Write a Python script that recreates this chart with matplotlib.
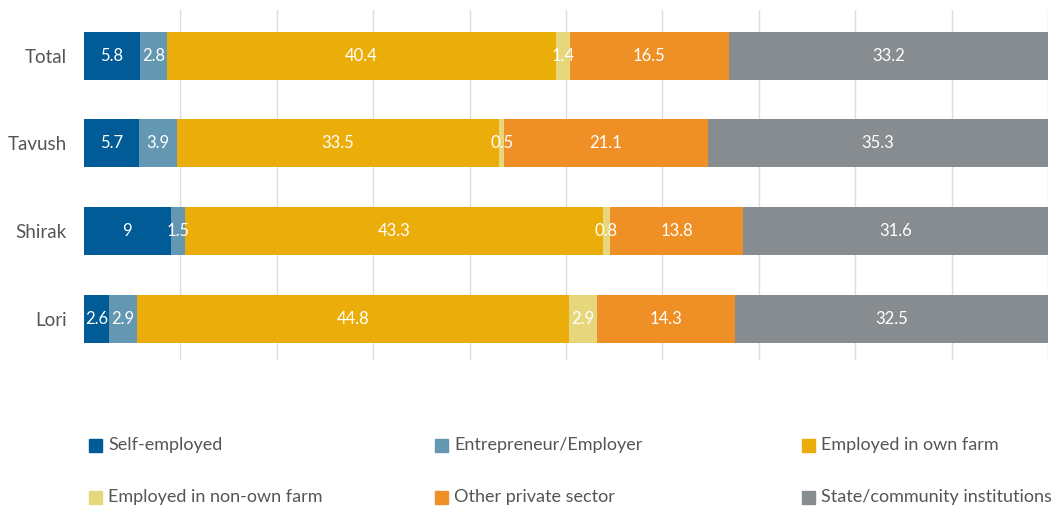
import matplotlib
matplotlib.use("Agg")
import matplotlib.pyplot as plt
from matplotlib.patches import Rectangle
import numpy as np

plt.rcParams['font.family'] = ['Lato', 'DejaVu Sans']

categories = ["Total", "Tavush", "Shirak", "Lori"]
series_names = ["Self-employed", "Entrepreneur/Employer", "Employed in own farm",
                "Employed in non-own farm", "Other private sector", "State/community institutions"]
self_employed = [5.8, 5.7, 9, 2.6]
entrepreneur = [2.8, 3.9, 1.5, 2.9]
own_farm = [40.4, 33.5, 43.3, 44.8]
non_own_farm = [1.4, 0.5, 0.8, 2.9]
other_private = [16.5, 21.1, 13.8, 14.3]
state_inst = [33.2, 35.3, 31.6, 32.5]
colors = ["#005b96", "#6497b1", "#ebad0a", "#e6d77c", "#ef9027", "#878c91"]

series = [self_employed, entrepreneur, own_farm, non_own_farm, other_private, state_inst]

fig = plt.figure(figsize=(10.51, 5.07), dpi=100)
ax = fig.add_axes([84/1051, 1-360/507, (1048-84)/1051, 350/507])

y = np.arange(len(categories))
left = np.zeros(len(categories))
for vals, col, name in zip(series, colors, series_names):
    v = np.array(vals, dtype=float)
    ax.barh(y, v, left=left, height=0.545, color=col, label=name, zorder=2)
    for yi, (l, w) in enumerate(zip(left, v)):
        ax.text(l + w/2, yi, f"{w:g}", ha='center', va='center', color='white',
                fontsize=12, zorder=3)
    left += v

ax.set_xlim(0, 100)
ax.set_ylim(3.47, -0.52)
ax.set_yticks(y)
ax.set_yticklabels(categories, fontsize=13.5, color='#555555')
ax.tick_params(axis='y', length=0, pad=12.5)
ax.set_xticks(np.arange(10, 101, 10))
ax.tick_params(axis='x', length=0, labelbottom=False)
ax.grid(axis='x', color='#dddddd', linewidth=1, zorder=0)
for s in ax.spines.values():
    s.set_visible(False)

# legend
leg_x = [89, 435, 802]
leg_y = [445, 497]
for i, (name, col) in enumerate(zip(series_names, colors)):
    r, c = divmod(i, 3)
    x0 = leg_x[c] / 1051
    y0 = 1 - leg_y[r] / 507
    fig.patches.append(Rectangle((x0, y0 - 6.5/507), 13/1051, 13/507,
                                 transform=fig.transFigure, color=col))
    fig.text(x0 + 19/1051, y0, name, fontsize=13, color='#555555', va='center', ha='left')

fig.savefig("out.png", dpi=100)
